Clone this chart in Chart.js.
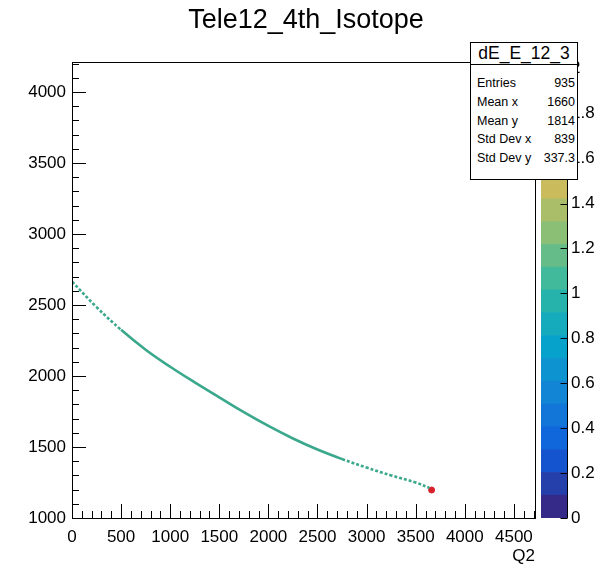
<!DOCTYPE html>
<html lang="en">
<head>
    <meta charset="UTF-8" />
    <title>Tele12_4th_Isotope</title>
    <script src="https://cdn.jsdelivr.net/npm/chart.js"></script>
    <style>
        * {
            box-sizing: border-box;
            margin: 0;
            padding: 0;
        }
        body {
            background: #fff;
            color: #000;
            font-family: "Liberation Sans", Arial, sans-serif;
        }
        .wrap {
            position: relative;
            width: 601px;
            height: 565px;
            overflow: hidden;
        }
        canvas {
            position: absolute;
            left: 0;
            top: 0;
        }
        .title {
            position: absolute;
            left: 0;
            top: 6px;
            width: 612px;
            text-align: center;
            font-size: 27px;
            line-height: 27px;
        }
        .stats {
            position: absolute;
            left: 470px;
            top: 42px;
            width: 108px;
            height: 138px;
            border: 1px solid #000;
            background: #fff;
            z-index: 2;
        }
        .stats .head {
            height: 22px;
            border-bottom: 1px solid #000;
            text-align: center;
            font-size: 17.5px;
            line-height: 21px;
        }
        .stats .rows {
            padding-top: 9px;
        }
        .stats .row {
            display: flex;
            justify-content: space-between;
            height: 18.8px;
            line-height: 18.8px;
            font-size: 12.5px;
            padding: 0 2px 0 6px;
        }
    </style>
</head>
<body>
<div class="wrap">
    <canvas id="plot" width="601" height="565"></canvas>
    <canvas id="zbar" width="601" height="565"></canvas>
    <div class="title">Tele12_4th_Isotope</div>
    <div class="stats">
        <div class="head">dE_E_12_3</div>
        <div class="rows" id="statRows"></div>
    </div>
</div>

<script>
    // band of the isotope line (Q2 vs dE)
    const q2Pts = [0, 250, 500, 750, 1000, 1250, 1500, 1750, 2000, 2250, 2500, 2750, 3000, 3250, 3500, 3640];
    const dePts = [2665, 2485, 2325, 2185, 2065, 1955, 1850, 1745, 1648, 1560, 1482, 1415, 1355, 1300, 1250, 1212];

    // the single hot bin at the end of the line
    const hotQ2 = [3662];
    const hotDe = [1197];

    // colour scale contour levels
    const zLevels = [0, 0.1015, 0.203, 0.3045, 0.406, 0.5075, 0.609, 0.7105, 0.812, 0.9135, 1.015,
                     1.1165, 1.218, 1.3195, 1.421, 1.5225, 1.624, 1.7255, 1.827, 1.9285, 2.03];

    // stats box
    const statNames = ['Entries', 'Mean x', 'Mean y', 'Std Dev x', 'Std Dev y'];
    const statValues = ['935', '1660', '1814', '839', '337.3'];

    // kBird-like palette, one colour per contour band
    const zColors = ['#352a87', '#253fab', '#1554cf', '#1066db', '#1275d8', '#1385d5', '#0d93d0',
                     '#07a2cb', '#15abbc', '#26b3ac', '#41b99b', '#66bc88', '#8bbf75', '#aabd68',
                     '#cabb5c', '#dfbf4e', '#f2c43c', '#fdd02c', '#fbe51d', '#f9fb0e'];

    document.getElementById('statRows').innerHTML = statNames.map((n, i) =>
        '<div class="row"><span>' + n + '</span><span>' + statValues[i] + '</span></div>').join('');

    Chart.defaults.font.family = '"Liberation Sans", Arial, sans-serif';
    Chart.defaults.color = '#000';

    const noGrid = { display: false, drawTicks: false, tickLength: 0 };

    // ROOT style frame with inward ticks
    const framePlugin = {
        id: 'frame',
        afterDraw(chart) {
            const { ctx, chartArea: a, scales } = chart;
            ctx.save();
            ctx.strokeStyle = '#000';
            ctx.lineWidth = 1;
            ctx.strokeRect(Math.round(a.left) + 0.5, Math.round(a.top) + 0.5,
                Math.round(a.right - a.left), Math.round(a.bottom - a.top));
            ctx.beginPath();
            scales.x.ticks.forEach(t => {
                const v = Math.round(t.value);
                if (v % 100) return;
                const px = Math.round(scales.x.getPixelForValue(v)) + 0.5;
                const len = v % 500 === 0 ? 14 : 7;
                ctx.moveTo(px, a.bottom);
                ctx.lineTo(px, a.bottom - len);
            });
            scales.y.ticks.forEach(t => {
                const v = Math.round(t.value);
                if (v % 100) return;
                const py = Math.round(scales.y.getPixelForValue(v)) + 0.5;
                const len = v % 500 === 0 ? 14 : 7;
                ctx.moveTo(a.left, py);
                ctx.lineTo(a.left + len, py);
            });
            ctx.stroke();
            ctx.restore();
        }
    };

    const sparse = (c) => (c.p0.parsed.x < 500 || c.p0.parsed.x >= 2750) ? [3, 2] : undefined;

    new Chart(document.getElementById('plot').getContext('2d'), {
        type: 'scatter',
        data: {
            datasets: [{
                data: q2Pts.map((x, i) => ({ x: x, y: dePts[i] })),
                showLine: true,
                borderColor: 'rgb(58,168,140)',
                borderWidth: 2.6,
                tension: 0.4,
                pointRadius: 0,
                segment: { borderDash: sparse }
            }, {
                data: hotQ2.map((x, i) => ({ x: x, y: hotDe[i] })),
                pointRadius: 3,
                backgroundColor: '#d8202a',
                borderColor: '#d8202a'
            }]
        },
        options: {
            responsive: false,
            animation: false,
            layout: { padding: { top: 62, right: 66, left: 0, bottom: 0 } },
            plugins: { legend: { display: false }, tooltip: { enabled: false } },
            scales: {
                x: {
                    type: 'linear',
                    min: 0,
                    max: 4715,
                    afterFit: s => { s.height = 47; },
                    grid: noGrid,
                    border: { display: false },
                    ticks: {
                        stepSize: 100,
                        includeBounds: false,
                        autoSkip: false,
                        maxRotation: 0,
                        padding: 9,
                        font: { size: 17 },
                        callback: v => (Math.round(v) % 500 === 0 ? String(Math.round(v)) : '')
                    },
                    title: { display: true, text: 'Q2', align: 'end', font: { size: 17 }, padding: { top: 0, bottom: -2 } }
                },
                y: {
                    type: 'linear',
                    min: 1000,
                    max: 4211,
                    afterFit: s => { s.width = 72; },
                    grid: noGrid,
                    border: { display: false },
                    ticks: {
                        stepSize: 100,
                        includeBounds: false,
                        autoSkip: false,
                        padding: 6,
                        font: { size: 17 },
                        callback: v => (Math.round(v) % 500 === 0 ? String(Math.round(v)) : '')
                    }
                }
            }
        },
        plugins: [framePlugin]
    });

    // colour scale on the right
    const zTicks = {
        id: 'zticks',
        afterDraw(chart) {
            const { ctx, chartArea: a, scales } = chart;
            ctx.save();
            ctx.strokeStyle = '#000';
            ctx.lineWidth = 1;
            ctx.beginPath();
            const rx = Math.round(a.right) + 0.5;
            ctx.moveTo(rx, a.top);
            ctx.lineTo(rx, a.bottom);
            scales.y.ticks.forEach(t => {
                const py = Math.round(scales.y.getPixelForValue(t.value)) + 0.5;
                ctx.moveTo(rx - 7, py);
                ctx.lineTo(rx, py);
            });
            ctx.stroke();
            ctx.restore();
        }
    };

    new Chart(document.getElementById('zbar').getContext('2d'), {
        type: 'bar',
        data: {
            labels: [''],
            datasets: zColors.map((c, i) => ({
                data: [[zLevels[i], zLevels[i + 1]]],
                backgroundColor: c,
                borderWidth: 0,
                barPercentage: 1,
                categoryPercentage: 1,
                grouped: false
            }))
        },
        options: {
            responsive: false,
            animation: false,
            layout: { padding: { top: 62, right: 0, left: 541, bottom: 47 } },
            plugins: { legend: { display: false }, tooltip: { enabled: false } },
            scales: {
                x: { display: false },
                y: {
                    position: 'right',
                    min: 0,
                    max: 2.03,
                    afterFit: s => { s.width = 34; },
                    grid: noGrid,
                    border: { display: false },
                    ticks: {
                        stepSize: 0.2,
                        includeBounds: false,
                        padding: 4,
                        font: { size: 17 },
                        callback: v => String(Math.round(v * 10) / 10)
                    }
                }
            }
        },
        plugins: [zTicks]
    });
</script>
</body>
</html>
